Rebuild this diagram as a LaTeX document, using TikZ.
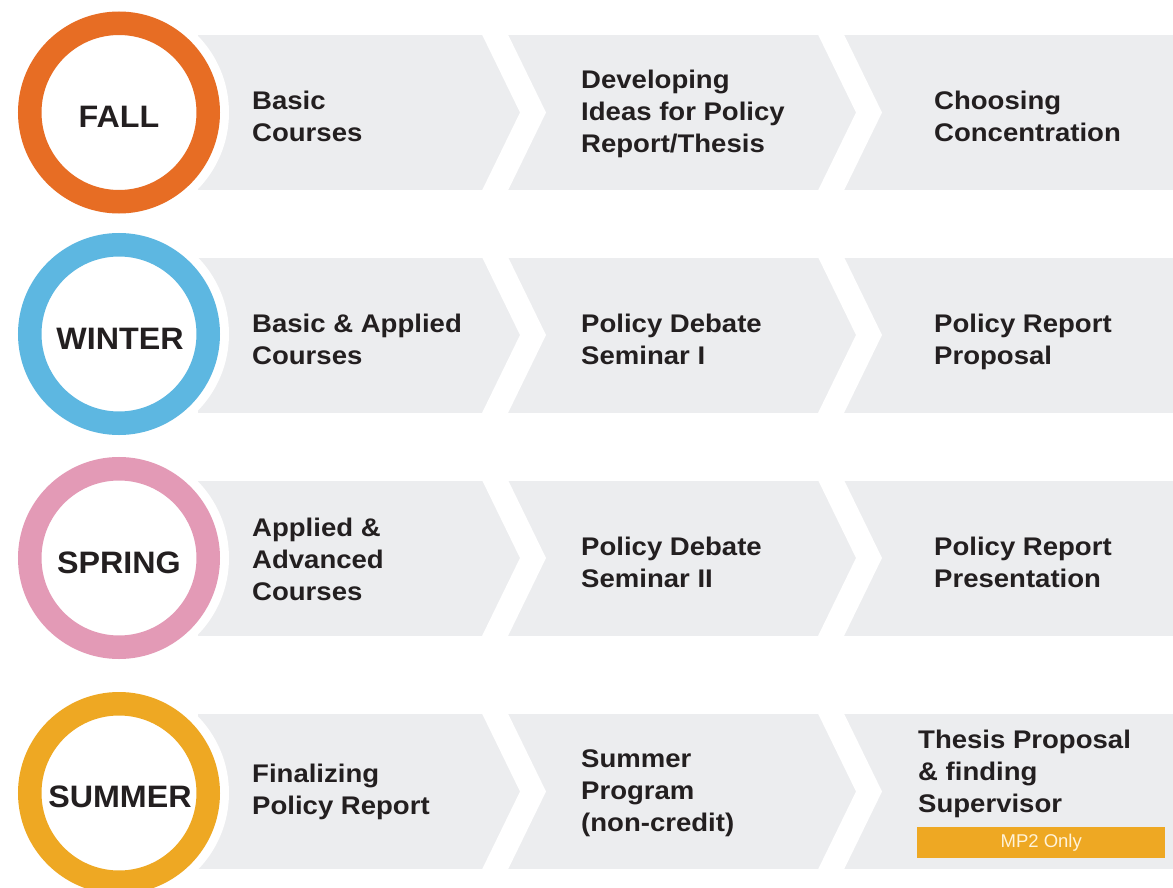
\documentclass[tikz,border=0pt]{standalone}
\usepackage{fontspec}
\setmainfont{Liberation Sans}
\newfontfamily\bodyfont[FakeStretch=1.08]{Liberation Sans}
\newfontfamily\seasonfont[FakeStretch=1.04]{Liberation Sans}
\definecolor{fallc}{HTML}{E76D24}
\definecolor{winterc}{HTML}{5DB7E1}
\definecolor{springc}{HTML}{E39AB6}
\definecolor{summerc}{HTML}{EEA823}
\definecolor{bandgray}{HTML}{ECEDEF}
\definecolor{txt}{HTML}{231F20}
\definecolor{cream}{HTML}{FFF3D9}
\newcommand\bandrow[1]{%
  \fill[bandgray] (198,#1-77.5) rectangle (1173,#1+77.5);
  \fill[white] (482,#1-78) -- (508,#1-78) -- (546,#1) -- (508,#1+78) -- (482,#1+78) -- (520,#1) -- cycle;
  \fill[white] (818,#1-78) -- (844,#1-78) -- (882,#1) -- (844,#1+78) -- (818,#1+78) -- (856,#1) -- cycle;
}
\newcommand\seasonring[2]{%
  \fill[white] (119,#1) circle (110);
  \draw[#2, line width=23.5pt] (119,#1) circle (89.25);
}
\newcommand\lns[1]{\begin{tabular}{@{}l@{}}#1\end{tabular}}
\tikzset{
  body/.style={anchor=west, inner sep=0pt, text=txt, font=\bodyfont\bfseries\fontsize{25.5}{32}\selectfont},
  season/.style={anchor=base, inner sep=0pt, text=txt, font=\seasonfont\bfseries\fontsize{31}{36}\selectfont},
  tag/.style={fill=summerc, text=cream, inner sep=0pt, minimum width=248pt, minimum height=31pt, anchor=north west, font=\fontsize{18.5}{22}\selectfont}
}
\begin{document}
\begin{tikzpicture}[x=1pt,y=-1pt]
\useasboundingbox (0,0) rectangle (1173,888);
% bands
\bandrow{112.5}
\bandrow{335}
\bandrow{558}
\bandrow{791.5}
% rings
\seasonring{112.5}{fallc}
\seasonring{334}{winterc}
\seasonring{558}{springc}
\seasonring{793}{summerc}
% season labels
\node[season] (fall) at (119,128) {FALL};
\node[season] (winter) at (120,349) {WINTER};
\node[season] (spring) at (119,573) {SPRING};
\node[season] (summer) at (120,807.5) {SUMMER};
% row 1
\node[body] (f1) at (252,119) {\lns{Basic\\Courses}};
\node[body] (f2) at (581,114) {\lns{Developing\\Ideas for Policy\\Report/Thesis}};
\node[body] (f3) at (934,119) {\lns{Choosing\\Concentration}};
% row 2
\node[body] (w1) at (252,342) {\lns{Basic \& Applied\\Courses}};
\node[body] (w2) at (581,342) {\lns{Policy Debate\\Seminar I}};
\node[body] (w3) at (934,342) {\lns{Policy Report\\Proposal}};
% row 3
\node[body] (s1) at (252,562) {\lns{Applied \&\\Advanced\\Courses}};
\node[body] (s2) at (581,565.5) {\lns{Policy Debate\\Seminar II}};
\node[body] (s3) at (934,565.5) {\lns{Policy Report\\Presentation}};
% row 4
\node[body] (u1) at (252,792) {\lns{Finalizing\\Policy Report}};
\node[body] (u2) at (581,793.5) {\lns{Summer\\Program\\(non-credit)}};
\node[body] (u3) at (918,774) {\lns{Thesis Proposal\\\& finding\\Supervisor}};
\node[tag] (mp2) at (917,827) {MP2 Only};
\end{tikzpicture}
\end{document}
